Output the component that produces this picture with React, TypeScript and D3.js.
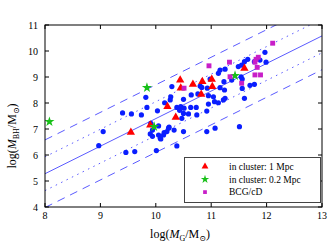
import React from 'react';
import * as d3 from 'd3';

// log(M_G) vs log(M_BH) points
const fieldGalaxies: [number, number][] = [
  [8.97, 6.36], [9.05, 6.90], [9.46, 6.10], [9.62, 6.13], [10.01, 6.17],
  [9.40, 7.62], [9.56, 7.58], [9.74, 7.54], [9.82, 8.22], [9.84, 7.83],
  [10.03, 7.70], [10.16, 8.01], [9.91, 7.22], [9.94, 6.96], [9.90, 6.81],
  [9.94, 6.72], [10.09, 6.62], [10.14, 6.77], [10.05, 7.12], [10.24, 7.07],
  [10.33, 6.96], [10.50, 6.90], [10.15, 6.86], [10.20, 6.90], [10.05, 6.77],
  [10.08, 6.64], [10.38, 6.35], [10.29, 8.63], [10.27, 8.24], [10.26, 8.12],
  [10.64, 8.31], [10.76, 8.35], [10.38, 7.83], [10.45, 7.86], [10.51, 7.80],
  [10.63, 7.83], [10.73, 7.83], [10.50, 7.60], [10.59, 7.58], [10.47, 7.41],
  [10.74, 7.54], [10.80, 8.65], [10.50, 8.14], [10.83, 8.60], [10.93, 8.57],
  [10.98, 8.92], [11.16, 8.59], [11.24, 8.50], [10.95, 8.28], [11.04, 8.24],
  [11.25, 8.18], [11.06, 8.05], [11.13, 8.01], [10.95, 7.96], [10.92, 7.69],
  [11.60, 8.18], [11.07, 7.03], [10.92, 6.90], [11.51, 7.09], [11.22, 8.12],
  [11.56, 8.56], [11.70, 8.68], [11.78, 8.72], [11.16, 9.27], [11.13, 9.14],
  [11.25, 9.30], [11.49, 9.40], [11.55, 9.46], [11.60, 9.59], [11.66, 9.68],
  [11.37, 8.88], [11.54, 9.01], [11.23, 8.82], [11.56, 8.92], [11.78, 9.59],
  [11.88, 9.65], [11.97, 9.95], [11.99, 9.57], [10.23, 7.03], [10.43, 7.72],
];

const cluster1Mpc: [number, number][] = [
  [9.55, 6.87], [9.90, 7.15], [10.21, 7.86], [10.36, 7.45], [10.44, 8.88],
  [10.67, 8.72], [10.45, 8.57], [10.84, 8.82], [11.01, 8.91], [11.02, 8.63],
  [10.82, 8.33], [11.60, 9.33],
];

const cluster02Mpc: [number, number][] = [
  [8.08, 7.28], [9.84, 8.59], [9.97, 7.09], [11.43, 9.05],
];

const bcgCD: [number, number][] = [
  [10.51, 8.57], [10.96, 9.43], [11.33, 9.57], [11.34, 9.01], [11.55, 8.76],
  [11.79, 9.08], [11.89, 9.08], [11.81, 9.68], [11.85, 9.76], [11.83, 9.37],
  [11.79, 9.57], [12.11, 10.30],
];

const xTicks = [8, 9, 10, 11, 12, 13];
const yTicks = [4, 5, 6, 7, 8, 9, 10, 11];

// fit: log M_BH = slope * log M_G + intercept, with 1 and 2 sigma bands
const fitSlope = 1.06;
const fitIntercept = -3.2;
const fitOffsets = [
  { off: 0, dash: null },
  { off: 0.65, dash: '1.5,4.5' },
  { off: -0.65, dash: '1.5,4.5' },
  { off: 1.3, dash: '8,6' },
  { off: -1.3, dash: '8,6' },
];

const legendItems = [
  { label: 'in cluster: 1 Mpc', kind: 'tri' },
  { label: 'in cluster: 0.2 Mpc', kind: 'star' },
  { label: 'BCG/cD', kind: 'sq' },
];

const FONT = '"Liberation Serif", "DejaVu Serif", serif';
const LINE = '#5b5bff';
const BLUE = '#0a1eff';
const RED = '#ff0000';
const GREEN = '#18c018';
const MAGENTA = '#c81ec8';

const symTri = d3.symbol().type(d3.symbolTriangle).size(30)()!;
const symStar = d3.symbol().type(d3.symbolStar).size(32)()!;
const symSq = d3.symbol().type(d3.symbolSquare).size(24)()!;
// legend keys are drawn a bit smaller
const keyTri = d3.symbol().type(d3.symbolTriangle).size(20)()!;
const keyStar = d3.symbol().type(d3.symbolStar).size(22)()!;
const keySq = d3.symbol().type(d3.symbolSquare).size(14)()!;

const App = () => {
  const W = 334, H = 250;
  const m = { left: 45, right: 322, top: 25, bottom: 207 };
  const x = d3.scaleLinear().domain([8, 13]).range([m.left, m.right]);
  const y = d3.scaleLinear().domain([4, 11]).range([m.bottom, m.top]);

  const marker = (kind: string) =>
    kind === 'tri' ? { d: keyTri, c: RED } : kind === 'star' ? { d: keyStar, c: GREEN } : { d: keySq, c: MAGENTA };

  return (
    <svg width={W} height={H} style={{ position: 'absolute', left: 0, top: 0, background: '#fff' }}
      fontFamily={FONT}>
      <defs>
        <clipPath id="plot-clip">
          <rect x={m.left} y={m.top} width={m.right - m.left} height={m.bottom - m.top} />
        </clipPath>
      </defs>

      {/* fit lines */}
      <g clipPath="url(#plot-clip)">
        {fitOffsets.map((f, i) => (
          <path key={i}
            d={`M${x(8)},${y(fitSlope * 8 + fitIntercept + f.off)}L${x(13)},${y(fitSlope * 13 + fitIntercept + f.off)}`}
            stroke={LINE} strokeWidth={1} fill="none"
            strokeDasharray={f.dash ?? undefined} />
        ))}
      </g>

      {/* points */}
      <g clipPath="url(#plot-clip)">
        {fieldGalaxies.map((p, i) => (
          <circle key={'b' + i} cx={x(p[0])} cy={y(p[1])} r={2.6} fill={BLUE} />
        ))}
        {cluster1Mpc.map((p, i) => (
          <path key={'r' + i} d={symTri} transform={`translate(${x(p[0])},${y(p[1])})`} fill={RED} />
        ))}
        {cluster02Mpc.map((p, i) => (
          <path key={'g' + i} d={symStar} transform={`translate(${x(p[0])},${y(p[1])})`} fill={GREEN} />
        ))}
        {bcgCD.map((p, i) => (
          <path key={'m' + i} d={symSq} transform={`translate(${x(p[0])},${y(p[1])})`} fill={MAGENTA} />
        ))}
      </g>

      {/* frame and ticks */}
      <rect x={m.left} y={m.top} width={m.right - m.left} height={m.bottom - m.top}
        fill="none" stroke="#000" strokeWidth={1} />
      {xTicks.map(t => (
        <g key={'xt' + t}>
          <line x1={x(t)} x2={x(t)} y1={m.bottom} y2={m.bottom - 4} stroke="#000" />
          <line x1={x(t)} x2={x(t)} y1={m.top} y2={m.top + 4} stroke="#000" />
          <text x={x(t)} y={219} textAnchor="middle" fontSize={10} fill="#000">{t}</text>
        </g>
      ))}
      {yTicks.map(t => (
        <g key={'yt' + t}>
          <line x1={m.left} x2={m.left + 4} y1={y(t)} y2={y(t)} stroke="#000" />
          <line x1={m.right} x2={m.right - 4} y1={y(t)} y2={y(t)} stroke="#000" />
          <text x={38} y={y(t)} dy="0.35em" textAnchor="end" fontSize={10} fill="#000">{t}</text>
        </g>
      ))}

      {/* axis labels */}
      <text x={180} y={238} textAnchor="middle" fontSize={12} fill="#000">
        log(<tspan fontStyle="italic">M</tspan><tspan fontSize={8} dy={2.5}>G</tspan>
        <tspan dy={-2.5}>/M</tspan><tspan fontSize={8} dy={2.5}>⊙</tspan><tspan dy={-2.5}>)</tspan>
      </text>
      <text transform="translate(16,136) rotate(-90)" textAnchor="middle" fontSize={12} fill="#000">
        log(<tspan fontStyle="italic">M</tspan><tspan fontSize={8} dy={2.5}>BH</tspan>
        <tspan dy={-2.5}>/M</tspan><tspan fontSize={8} dy={2.5}>⊙</tspan><tspan dy={-2.5}>)</tspan>
      </text>

      {/* legend */}
      <rect x={184.5} y={157.5} width={136} height={45} fill="#fff" stroke="#444" strokeWidth={1} />
      {legendItems.map((it, i) => {
        const mk = marker(it.kind);
        const cy = 166.5 + i * 12.8;
        return (
          <g key={it.label}>
            <path d={mk.d} transform={`translate(205,${cy})`} fill={mk.c} />
            <text x={229} y={cy} dy="0.35em" fontSize={9.5} fill="#000">{it.label}</text>
          </g>
        );
      })}
    </svg>
  );
};

export default App;
